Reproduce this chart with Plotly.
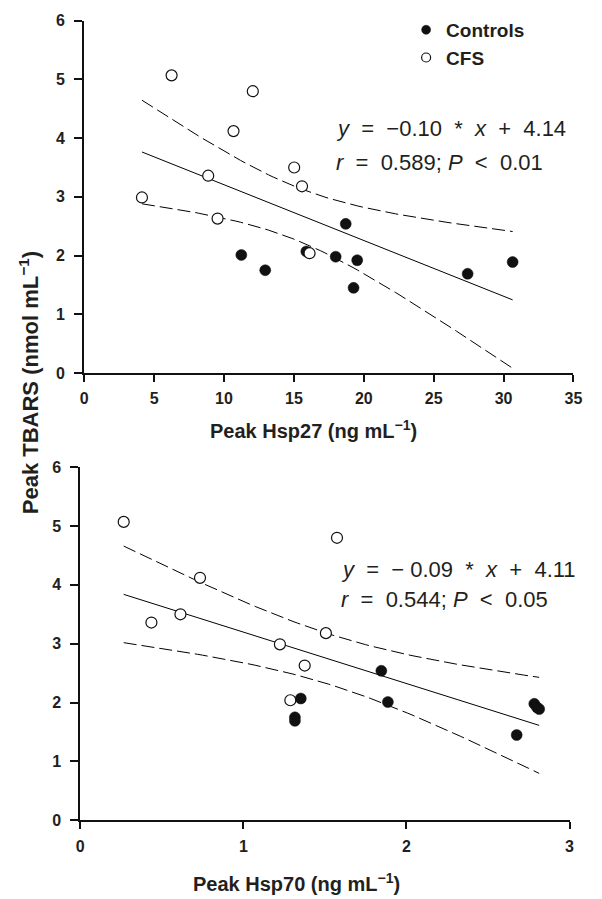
import numpy as np
import plotly.graph_objects as go

# ---------------- data ----------------
# Top panel: Peak Hsp27 (ng/mL) vs Peak TBARS (nmol/mL)
hsp27_cfs_x = [4.13, 6.25, 8.87, 9.54, 10.68, 12.06, 15.02, 15.58, 16.12]
hsp27_cfs_y = [2.99, 5.07, 3.36, 2.63, 4.12, 4.80, 3.50, 3.18, 2.04]
hsp27_ctrl_x = [11.24, 12.95, 15.89, 17.99, 18.71, 19.53, 19.27, 27.43, 30.65]
hsp27_ctrl_y = [2.01, 1.75, 2.07, 1.98, 2.54, 1.92, 1.45, 1.69, 1.89]

# Bottom panel: Peak Hsp70 (ng/mL) vs Peak TBARS (nmol/mL)
hsp70_cfs_x = [0.266, 0.436, 0.614, 0.734, 1.224, 1.288, 1.376, 1.506, 1.574]
hsp70_cfs_y = [5.07, 3.36, 3.50, 4.12, 2.99, 2.04, 2.63, 3.18, 4.80]
hsp70_ctrl_x = [1.316, 1.316, 1.352, 1.846, 1.886, 2.676, 2.784, 2.800, 2.814]
hsp70_ctrl_y = [1.75, 1.69, 2.07, 2.54, 2.01, 1.45, 1.98, 1.92, 1.89]

top_xticks = [0, 5, 10, 15, 20, 25, 30, 35]
bot_xticks = [0, 1, 2, 3]
y_ticks = [0, 1, 2, 3, 4, 5, 6]

group_names = ["Controls", "CFS"]

top_eq = ["<i>y</i>\u00a0\u00a0=\u00a0\u00a0\u22120.10\u00a0\u00a0*\u00a0\u00a0<i>x</i>\u00a0\u00a0+\u00a0\u00a04.14",
          "<i>r</i>\u00a0\u00a0=\u00a0\u00a00.589;\u00a0<i>P</i>\u00a0\u00a0<\u00a0\u00a00.01"]
bot_eq = ["<i>y</i>\u00a0\u00a0=\u00a0\u00a0\u2212\u00a00.09\u00a0\u00a0*\u00a0\u00a0<i>x</i>\u00a0\u00a0+\u00a0\u00a04.11",
          "<i>r</i>\u00a0\u00a0=\u00a0\u00a00.544;\u00a0<i>P</i>\u00a0\u00a0<\u00a0\u00a00.05"]

T_CRIT = 2.120  # two-sided 95% t value, 16 degrees of freedom

W, H = 602, 899
FONT = "Liberation Sans, Arial, Helvetica, sans-serif"
TXT = "#231f20"
INK = "#111111"


def fit_band(x, y, n_pts=80):
    x = np.asarray(x, float)
    y = np.asarray(y, float)
    b, a = np.polyfit(x, y, 1)
    n = len(x)
    res = y - (a + b * x)
    s = np.sqrt(np.sum(res ** 2) / (n - 2))
    sxx = np.sum((x - x.mean()) ** 2)
    xs = np.linspace(x.min(), x.max(), n_pts)
    yh = a + b * xs
    half = T_CRIT * s * np.sqrt(1.0 / n + (xs - x.mean()) ** 2 / sxx)
    return xs, yh, yh - half, yh + half


fig = go.Figure()

filled = dict(symbol="circle", color=INK, line=dict(color=INK, width=0.5))
hollow = dict(symbol="circle", color="white", line=dict(color=INK, width=1.2))


def add_panel(cx, cy, kx, ky, xa, ya, ctrl_on_top):
    xs, yh, lo, hi = fit_band(cx + kx, cy + ky)
    for yy, dash in ((hi, "13px,5px"), (lo, "13px,5px"), (yh, "solid")):
        fig.add_trace(go.Scatter(x=xs, y=yy, mode="lines", xaxis=xa, yaxis=ya,
                                 line=dict(color="black", width=1, dash=dash),
                                 showlegend=False, hoverinfo="skip"))
    ctrl = go.Scatter(x=kx, y=ky, mode="markers", name=group_names[0], xaxis=xa, yaxis=ya,
                      marker=dict(size=11, **filled), showlegend=False)
    cfs = go.Scatter(x=cx, y=cy, mode="markers", name=group_names[1], xaxis=xa, yaxis=ya,
                     marker=dict(size=11, **hollow), showlegend=False)
    if ctrl_on_top:
        fig.add_trace(cfs)
        fig.add_trace(ctrl)
    else:
        fig.add_trace(ctrl)
        fig.add_trace(cfs)


add_panel(hsp27_cfs_x, hsp27_cfs_y, hsp27_ctrl_x, hsp27_ctrl_y, "x", "y", False)
add_panel(hsp70_cfs_x, hsp70_cfs_y, hsp70_ctrl_x, hsp70_ctrl_y, "x2", "y2", True)

# legend-only entries (smaller symbols, as in the reference key)
for name, mk in zip(group_names, (filled, hollow)):
    fig.add_trace(go.Scatter(x=[None], y=[None], mode="markers", name=name,
                             marker=dict(size=9, **mk), showlegend=True))

axis_common = dict(showline=True, linecolor=INK, linewidth=2, ticks="outside",
                   tickcolor=INK, tickwidth=2, showgrid=False, zeroline=False,
                   tickfont=dict(family=FONT, size=16, color=TXT, weight=700))


def px_x(p):
    return p / W


def px_y(p):
    return 1 - p / H


def bold(vals):
    return ["<b>%s</b>" % v for v in vals]


fig.update_layout(
    width=W, height=H, margin=dict(l=0, r=0, t=0, b=0),
    paper_bgcolor="white", plot_bgcolor="white",
    font=dict(family=FONT, color=TXT),
    xaxis=dict(domain=[px_x(82), px_x(582)], range=[0, 35], tickvals=top_xticks,
               ticktext=bold(top_xticks),
               anchor="y", ticklen=7, ticklabelstandoff=3, **axis_common),
    yaxis=dict(domain=[px_y(372), px_y(13)], range=[0, 6], tickvals=y_ticks,
               ticktext=bold(y_ticks),
               anchor="x", ticklen=8, ticklabelstandoff=6, **axis_common),
    xaxis2=dict(domain=[px_x(78), px_x(578)], range=[0, 3], tickvals=bot_xticks,
                ticktext=bold(bot_xticks),
                anchor="y2", ticklen=7, ticklabelstandoff=3, **axis_common),
    yaxis2=dict(domain=[px_y(828), px_y(468)], range=[0, 6], tickvals=y_ticks,
                ticktext=bold(y_ticks),
                anchor="x2", ticklen=8, ticklabelstandoff=6, **axis_common),
    legend=dict(x=px_x(411), y=px_y(3), xanchor="left", yanchor="top",
                bgcolor="rgba(0,0,0,0)", traceorder="normal",
                font=dict(family=FONT, size=19, color=TXT, weight=700)),
)

ann = []
for i, t in enumerate(top_eq):
    ann.append(dict(text=t, x=px_x(337), y=px_y(123 + 34 * i), xanchor="left", yanchor="middle"))
for i, t in enumerate(bot_eq):
    ann.append(dict(text=t, x=px_x(342), y=px_y(572 + 31 * i), xanchor="left", yanchor="middle"))
for a in ann:
    a.update(xref="paper", yref="paper", showarrow=False,
             font=dict(family=FONT, size=22, color=TXT))
    fig.add_annotation(**a)

title_font = dict(family=FONT, size=20, color=TXT, weight=700)
fig.add_annotation(text="Peak Hsp27 (ng mL<sup>\u22121</sup>)", x=px_x(316), y=px_y(430),
                   xref="paper", yref="paper", showarrow=False, xanchor="center",
                   yanchor="middle", font=title_font)
fig.add_annotation(text="Peak Hsp70 (ng mL<sup>\u22121</sup>)", x=px_x(299), y=px_y(891),
                   xref="paper", yref="paper", showarrow=False, xanchor="center",
                   yanchor="middle", font=title_font)
fig.add_annotation(text="Peak TBARS (nmol mL<sup>\u22121</sup>)", x=px_x(25), y=px_y(382),
                   xref="paper", yref="paper", showarrow=False, xanchor="center",
                   yanchor="middle", textangle=-90,
                   font=dict(family=FONT, size=22, color=TXT, weight=700))

fig.write_html("out.html", config={"displayModeBar": False},
               post_script="document.body.style.margin='0';document.body.style.padding='0';")
